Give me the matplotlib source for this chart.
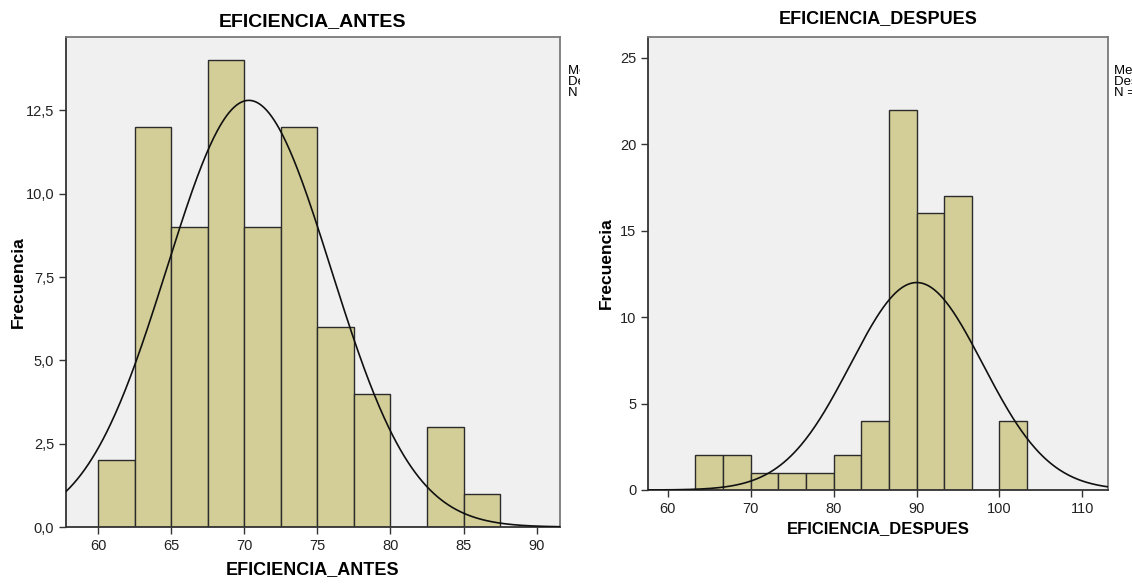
import numpy as np
import matplotlib
matplotlib.use("Agg")
import matplotlib.pyplot as plt
from matplotlib.ticker import FuncFormatter

plt.rcParams['font.family'] = ['Liberation Sans', 'DejaVu Sans']

# datos
antes_edges = [60.0, 62.5, 65.0, 67.5, 70.0, 72.5, 75.0, 77.5, 80.0, 82.5, 85.0]
antes_counts = [2, 12, 9, 14, 9, 12, 6, 4, 0, 3, 1]
antes_media = 70.31
antes_desv = 5.61
antes_n = 72

despues_edges = [63.33, 66.67, 70.0, 73.33, 76.67, 80.0, 83.33, 86.67, 90.0, 93.33, 96.67, 100.0]
despues_counts = [2, 2, 1, 1, 1, 2, 4, 22, 16, 17, 0, 4]
despues_media = 90.02
despues_desv = 7.98
despues_n = 72

antes_yticks = [0, 2.5, 5.0, 7.5, 10.0, 12.5]
antes_xticks = [60, 65, 70, 75, 80, 85, 90]
despues_yticks = [0, 5, 10, 15, 20, 25]
despues_xticks = [60, 70, 80, 90, 100, 110]

BAR = '#d3ce98'
BG = '#f0f0f0'
FRAME = '#7a7a7a'


def histograma(ax, edges, counts, bw, media, desv, n, xlim, ylim):
    ax.set_facecolor(BG)
    ax.bar(edges, counts, width=bw, align='edge', color=BAR,
           edgecolor='#2b2b2b', linewidth=1.0, zorder=2)
    x = np.linspace(xlim[0], xlim[1], 400)
    y = n * bw / (desv * np.sqrt(2 * np.pi)) * np.exp(-0.5 * ((x - media) / desv) ** 2)
    ax.plot(x, y, color='#111111', lw=1.2, zorder=3)
    ax.set_xlim(*xlim)
    ax.set_ylim(*ylim)
    for s in ax.spines.values():
        s.set_color(FRAME)
        s.set_linewidth(1.3)
    ax.spines['left'].set_color('#333333')
    ax.spines['bottom'].set_color('#333333')
    ax.tick_params(direction='out', length=5, width=1, color='#333333',
                   labelsize=10.5, labelcolor='#222222')
    ax.set_ylabel('Frecuencia', fontsize=12.5, fontweight='bold')


def leyenda(fig, rect, media, desv, n):
    # texto recortado como en la imagen original
    lax = fig.add_axes(rect)
    lax.set_axis_off()
    txt = 'Media = %s\nDesviación típica = %s\nN = %d' % (
        ('%.2f' % media).replace('.', ','), ('%.2f' % desv).replace('.', ','), n)
    t = lax.text(0, 1, txt, transform=lax.transAxes, va='top', ha='left',
                 fontsize=9.5, linespacing=0.95, clip_on=True)
    t.set_clip_box(lax.bbox)


fig = plt.figure(figsize=(11.32, 5.85), dpi=100)

ax1 = fig.add_axes([0.0583, 0.0991, 0.4364, 0.8376])
histograma(ax1, antes_edges, antes_counts, 2.5, antes_media, antes_desv, antes_n,
           (57.8, 91.6), (0, 14.7))
ax1.set_yticks(antes_yticks)
ax1.yaxis.set_major_formatter(FuncFormatter(lambda v, p: ('%.1f' % v).replace('.', ',')))
ax1.set_xticks(antes_xticks)
ax1.set_title('EFICIENCIA_ANTES', fontsize=14, fontweight='bold', pad=8)
ax1.set_xlabel('EFICIENCIA_ANTES', fontsize=13, fontweight='bold', labelpad=6)
ax1.yaxis.set_label_coords(-0.081, 0.5)

ax2 = fig.add_axes([0.5724, 0.1624, 0.4064, 0.7744])
histograma(ax2, despues_edges, despues_counts, 10 / 3, despues_media, despues_desv,
           despues_n, (57.6, 113.1), (0, 26.2))
ax2.set_yticks(despues_yticks)
ax2.set_xticks(despues_xticks)
ax2.set_title('EFICIENCIA_DESPUES', fontsize=13, fontweight='bold', pad=10)
ax2.set_xlabel('EFICIENCIA_DESPUES', fontsize=12, fontweight='bold', labelpad=4)
ax2.yaxis.set_label_coords(-0.075, 0.5)

leyenda(fig, [568 / 1132, 0.70, 12 / 1132, 0.19], antes_media, antes_desv, antes_n)
leyenda(fig, [1114 / 1132, 0.70, 18 / 1132, 0.19], despues_media, despues_desv, despues_n)

fig.savefig('out.png', dpi=100)
